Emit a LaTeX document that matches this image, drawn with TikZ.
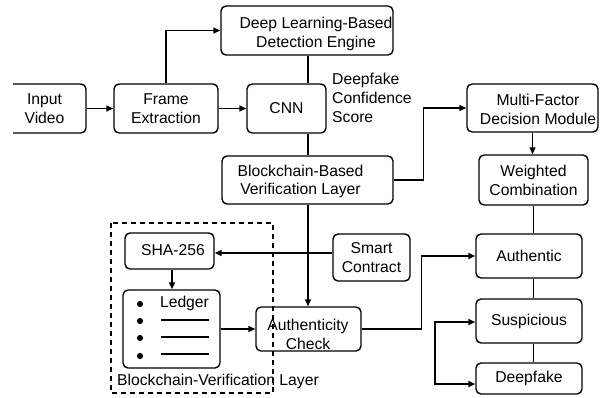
\documentclass[tikz,border=0pt]{standalone}
\usepackage{fontspec}
\setmainfont{Liberation Sans}
\usetikzlibrary{arrows.meta,calc}
\begin{document}
\begin{tikzpicture}[x=1bp,y=-1bp,
  every node/.style={font=\fontsize{15.7bp}{18.8bp}\selectfont, align=center},
  box/.style={draw, rounded corners=5bp, line width=1.4bp, inner sep=0pt},
  conn/.style={line width=1.4bp},
  arr/.style={conn, -{Triangle[length=7bp,width=6bp]}},
  dbl/.style={conn, {Triangle[length=7bp,width=6bp]}-{Triangle[length=7bp,width=6bp]}}]
\useasboundingbox (0,0) rectangle (600,397);

% input box, cut at the left edge
\begin{scope}
  \clip (13,0) rectangle (600,397);
  \node[box, minimum width=83bp, minimum height=49bp] (inp) at (44.5,108.5) {Input\\Video};
\end{scope}

% detection branch
\node[box, minimum width=104bp, minimum height=49bp] (fe) at (166,108.5) {Frame\\Extraction};
\node[box, minimum width=79bp, minimum height=49bp] (cnn) at (286.5,108.5) {CNN};
\node[box, minimum width=172bp, minimum height=49bp] (dl) at (307,30.5) {};
\node (dlt) at (316,34) {Deep Learning-Based\\Detection Engine};
\node[anchor=west, align=left, inner sep=0pt] (dcs) at (332,98) {Deepfake\\Confidence\\Score};
\node[box, minimum width=171bp, minimum height=48bp] (bb) at (307.5,180) {};
\node (bbt) at (300.5,181.5) {Blockchain-Based\\Verification Layer};

% decision branch
\node[box, minimum width=131bp, minimum height=48bp] (mf) at (532.5,108) {};
\node (mft) at (538,109.5) {Multi-Factor\\Decision Module};
\node[box, minimum width=109bp, minimum height=50bp] (wc) at (533.5,180) {Weighted\\Combination};
\node[box, minimum width=106bp, minimum height=44bp] (au) at (529,256) {Authentic};
\node[box, minimum width=106bp, minimum height=44bp] (su) at (529,321) {Suspicious};
\node[box, minimum width=106bp, minimum height=31bp] (df) at (529,378.5) {Deepfake};

% verification branch
\node[box, minimum width=77bp, minimum height=47bp] (sc) at (371.5,257.5) {Smart\\Contract};
\node[box, minimum width=105bp, minimum height=44bp] (ac) at (308.5,329) {};
\node (act) at (308,334) {Authenticity\\Check};
\node[box, minimum width=89bp, minimum height=36bp] (sha) at (169.5,251) {};
\node (shat) at (173,250) {SHA-256};
\node[box, minimum width=97bp, minimum height=78bp] (led) at (171.5,329) {};
\node (ledt) at (184.5,303) {Ledger};
\foreach \y in {304,321,338,356} \fill (140,\y) circle (3.1bp);
\foreach \y in {320,337,354} \draw[conn] (161,\y) -- (209,\y);

\draw[line width=1.4bp, dash pattern=on 5bp off 4bp] (111,223) rectangle (273,393);
\node[anchor=west, inner sep=0pt] (bvl) at (117,381) {Blockchain-Verification Layer};

% connectors
\coordinate (sp) at (308,0);
\coordinate (scl) at (0,253);
\coordinate (bt) at (435,322);
\coordinate (bl) at (435,384);

\draw[arr] (inp.east) -- (fe.west);
\draw[arr] (fe.east) -- (cnn.west);
\draw[arr] (fe.north) |- (dl.west);
\draw[conn] (sp |- dl.south) -- (sp |- cnn.north);
\draw[conn] (sp |- cnn.south) -- (sp |- bb.north);
\draw[arr] (bb.east) -- ++(30,0) |- (mf.west);
\draw[arr] (mf.south) -- (mf.south |- wc.north);
\draw[conn] (wc.south) -- (wc.south |- au.north);
\draw[conn] (wc.south |- au.south) -- (wc.south |- su.north);
\draw[conn] (wc.south |- su.south) -- (wc.south |- df.north);
\draw[dbl] (su.west |- bt) -- (bt) -- (bl) -- (df.west |- bl);
\draw[arr] (sc.west |- scl) -- (sha.east |- scl);
\draw[arr] (sp |- bb.south) -- (sp |- ac.north);
\draw[arr] (sha.south -| 172,0) -- (led.north -| 172,0);
\draw[arr] (led.east) -- (ac.west);
\draw[arr] (ac.east) -- ++(60,0) |- (au.west);
\end{tikzpicture}
\end{document}
